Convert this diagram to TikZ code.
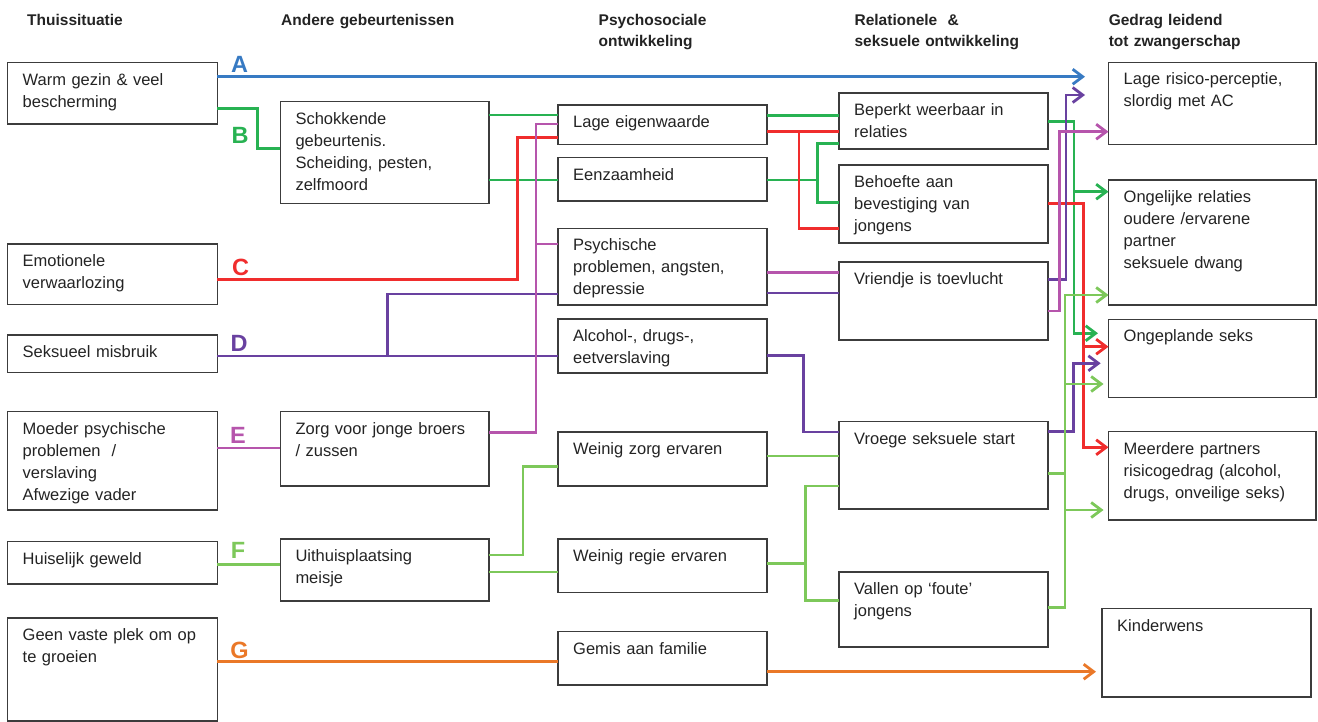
\documentclass[tikz,border=0pt]{standalone}
\usepackage{fontspec}
\setmainfont{Liberation Sans}
\usetikzlibrary{arrows.meta,calc}
\definecolor{cbox}{RGB}{60,60,60}
\definecolor{ctext}{RGB}{35,35,35}
\definecolor{cA}{RGB}{55,122,195}
\definecolor{cB}{RGB}{40,178,82}
\definecolor{cC}{RGB}{240,45,45}
\definecolor{cD}{RGB}{105,65,160}
\definecolor{cE}{RGB}{182,85,172}
\definecolor{cF}{RGB}{125,200,90}
\definecolor{cG}{RGB}{234,120,40}
\newcommand{\mybox}[6]{%
  \node[box, minimum width={#4pt-#2pt}, minimum height={#5pt-#3pt}] (#1) at (#2,#3) {};
  \node[txt] (#1-t) at ($(#1.north west)+(15,22.5)$) {#6};}
\begin{document}
\begin{tikzpicture}[x=1pt,y=-1pt,
  box/.style={draw=cbox, line width=1.2pt, anchor=north west, inner sep=0pt, outer sep=0pt},
  txt/.style={anchor=base west, inner sep=0pt, text width=215pt, align=left, text=ctext, font=\fontsize{16.5}{22}\selectfont},
  hdr/.style={anchor=base west, inner sep=0pt, text width=230pt, align=left, text=ctext, font=\fontsize{15.5}{21.5}\selectfont\bfseries},
  lab/.style={font=\fontsize{23.5}{24}\selectfont\bfseries, inner sep=0pt, anchor=base},
  con/.style={line width=2.8pt},
  arr/.style={line width=2.8pt, -{Straight Barb[length=10pt,width=15pt]}},
]
\useasboundingbox (0,0) rectangle (1318,722);

% headers
\node[hdr] (h1) at (27,25.5) {Thuissituatie};
\node[hdr] (h2) at (281,25.5) {Andere gebeurtenissen};
\node[hdr] (h3) at (598.5,25.5) {Psychosociale\\ontwikkeling};
\node[hdr] (h4) at (854.4,25.5) {Relationele \ \&\\seksuele ontwikkeling};
\node[hdr] (h5) at (1108.6,25.5) {Gedrag leidend\\tot zwangerschap};

% column 1
\mybox{b1}{7.5}{62.7}{217.3}{124}{Warm gezin \& veel\\bescherming}
\mybox{b2}{7.5}{244}{217.3}{304.5}{Emotionele\\verwaarlozing}
\mybox{b3}{7.5}{335}{217.3}{372.5}{Seksueel misbruik}
\mybox{b4}{7.5}{411.7}{217.3}{510}{Moeder psychische\\problemen \ /\\verslaving\\Afwezige vader}
\mybox{b5}{7.5}{541.7}{217.3}{584}{Huiselijk geweld}
\mybox{b6}{7.5}{618}{217.3}{721}{Geen vaste plek om op\\te groeien}
% column 2
\mybox{schok}{280.3}{101.7}{489}{203.3}{Schokkende\\gebeurtenis.\\Scheiding, pesten,\\zelfmoord}
\mybox{zorg}{280.3}{411.7}{489}{486}{Zorg voor jonge broers\\/ zussen}
\mybox{uith}{280.3}{539}{489}{601}{Uithuisplaatsing\\meisje}
% column 3
\mybox{lage}{558}{105}{767}{144.5}{Lage eigenwaarde}
\mybox{eenz}{558}{157.7}{767}{201}{Eenzaamheid}
\mybox{psych}{558}{228.3}{767}{305}{Psychische\\problemen, angsten,\\depressie}
\mybox{alc}{558}{319}{767}{373}{Alcohol-, drugs-,\\eetverslaving}
\mybox{wzorg}{558}{432}{767}{486}{Weinig zorg ervaren}
\mybox{wregie}{558}{539}{767}{592.7}{Weinig regie ervaren}
\mybox{gemis}{558}{631.7}{767}{685}{Gemis aan familie}
% column 4
\mybox{beperkt}{839}{93}{1048}{149}{Beperkt weerbaar in\\relaties}
\mybox{behoefte}{839}{165}{1048}{243}{Behoefte aan\\bevestiging van\\jongens}
\mybox{vriend}{839}{262}{1048}{340}{Vriendje is toevlucht}
\mybox{vroege}{839}{421.7}{1048}{509}{Vroege seksuele start}
\mybox{vallen}{839}{572}{1048}{647}{Vallen op ‘foute’\\jongens}
% column 5
\mybox{lrisk}{1108.5}{62.5}{1316}{144.7}{Lage risico-perceptie,\\slordig met AC}
\mybox{ongel}{1108.5}{180}{1316}{305}{Ongelijke relaties\\oudere /ervarene\\partner\\seksuele dwang}
\mybox{ongep}{1108.5}{319.3}{1316}{397.7}{Ongeplande seks}
\mybox{meer}{1108.5}{431.7}{1316}{520}{Meerdere partners\\risicogedrag (alcohol,\\drugs, onveilige seks)}
\mybox{kind}{1102}{608.7}{1311}{697}{Kinderwens}

% free arrow ends
\coordinate (Aend) at (1085,76.7);
\coordinate (Bend) at (1098,333.3);
\coordinate (Dend1) at (1085,95);
\coordinate (Dend2) at (1100.7,363.3);

% A (blue)
\draw[arr, cA] (b1.east |- 0,76.7) -- (Aend);
% B (green)
\draw[con, cB] (b1.east |- 0,108.3) -- (257.7,108.3) -- (257.7,148.7) -- (schok.west |- 0,148.7);
\draw[con, cB] (schok.east |- 0,115) -- (lage.west |- 0,115);
\draw[con, cB] (schok.east |- 0,180) -- (eenz.west |- 0,180);
\draw[con, cB] (lage.east |- 0,115.7) -- (beperkt.west |- 0,115.7);
\draw[con, cB] (eenz.east |- 0,180) -- (817.8,180);
\draw[con, cB] (beperkt.west |- 0,143.3) -- (817.8,143.3) -- (817.8,202.3) -- (behoefte.west |- 0,202.3);
\draw[arr, cB] (beperkt.east |- 0,121.7) -- (1074,121.7) -- (1074,333.3) -- (Bend);
\draw[arr, cB] (1074,191.7) -- (ongel.west |- 0,191.7);
% C (red)
\draw[con, cC] (b2.east |- 0,279.3) -- (517.7,279.3) -- (517.7,137.7) -- (lage.west |- 0,137.7);
\draw[con, cC] (lage.east |- 0,131.7) -- (beperkt.west |- 0,131.7);
\draw[con, cC] (798.9,131.7) -- (798.9,228.3) -- (behoefte.west |- 0,228.3);
\draw[arr, cC] (behoefte.east |- 0,203.3) -- (1083.3,203.3) -- (1083.3,447.3) -- (meer.west |- 0,447.3);
\draw[arr, cC] (1083.3,346.7) -- (ongep.west |- 0,346.7);
% D (purple)
\draw[con, cD] (b3.east |- 0,356) -- (alc.west |- 0,356);
\draw[con, cD] (387.2,356) -- (387.2,294) -- (psych.west |- 0,294);
\draw[con, cD] (psych.east |- 0,293) -- (vriend.west |- 0,293);
\draw[con, cD] (alc.east |- 0,355.7) -- (803.5,355.7) -- (803.5,432) -- (vroege.west |- 0,432);
\draw[arr, cD] (vriend.east |- 0,279.3) -- (1066,279.3) -- (1066,95) -- (Dend1);
\draw[arr, cD] (vroege.east |- 0,431.7) -- (1073.3,431.7) -- (1073.3,363.3) -- (Dend2);
% E (pink)
\draw[con, cE] (b4.east |- 0,448) -- (zorg.west |- 0,448);
\draw[con, cE] (zorg.east |- 0,432.3) -- (536,432.3) -- (536,124) -- (lage.west |- 0,124);
\draw[con, cE] (536,244) -- (psych.west |- 0,244);
\draw[con, cE] (psych.east |- 0,272.7) -- (vriend.west |- 0,272.7);
\draw[arr, cE] (vriend.east |- 0,311) -- (1059.3,311) -- (1059.3,131.7) -- (lrisk.west |- 0,131.7);
% F (light green)
\draw[con, cF] (b5.east |- 0,564.7) -- (uith.west |- 0,564.7);
\draw[con, cF] (uith.east |- 0,555) -- (523,555) -- (523,466.7) -- (wzorg.west |- 0,466.7);
\draw[con, cF] (uith.east |- 0,572) -- (wregie.west |- 0,572);
\draw[con, cF] (wzorg.east |- 0,456) -- (vroege.west |- 0,456);
\draw[con, cF] (wregie.east |- 0,563.7) -- (805.6,563.7);
\draw[con, cF] (vroege.west |- 0,486) -- (805.6,486) -- (805.6,600.7) -- (vallen.west |- 0,600.7);
\draw[con, cF] (vroege.east |- 0,473.3) -- (1065,473.3);
\draw[arr, cF] (vallen.east |- 0,607.7) -- (1065,607.7) -- (1065,295) -- (ongel.west |- 0,295);
\draw[arr, cF, shorten >=5pt] (1065,384) -- (ongep.west |- 0,384);
\draw[arr, cF, shorten >=5pt] (1065,510) -- (meer.west |- 0,510);
% G (orange)
\draw[con, cG] (b6.east |- 0,661.7) -- (gemis.west |- 0,661.7);
\draw[arr, cG, shorten >=6pt] (gemis.east |- 0,671.7) -- (kind.west |- 0,671.7);

% letters
\node[lab, text=cA] (lA) at (239.7,72.7) {A};
\node[lab, text=cB] (lB) at (240,144) {B};
\node[lab, text=cC] (lC) at (240.5,275.7) {C};
\node[lab, text=cD] (lD) at (239,352) {D};
\node[lab, text=cE] (lE) at (238,443.5) {E};
\node[lab, text=cF] (lF) at (238,558.5) {F};
\node[lab, text=cG] (lG) at (239.5,658.5) {G};
\end{tikzpicture}
\end{document}
